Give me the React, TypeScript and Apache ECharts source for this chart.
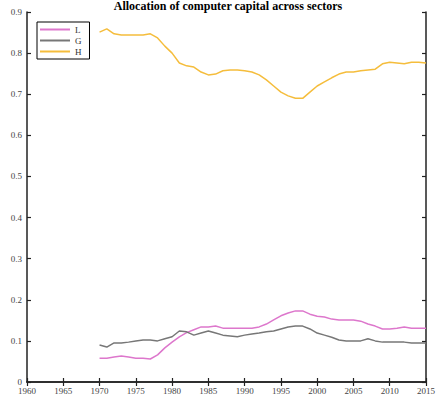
import React, { useEffect, useRef } from "react";
import * as echarts from "echarts";

const years = [1970,1971,1972,1973,1974,1975,1976,1977,1978,1979,1980,1981,1982,1983,1984,1985,1986,1987,1988,1989,1990,1991,1992,1993,1994,1995,1996,1997,1998,1999,2000,2001,2002,2003,2004,2005,2006,2007,2008,2009,2010,2011,2012,2013,2014,2015];
const seriesL = [0.058,0.058,0.061,0.063,0.061,0.058,0.058,0.056,0.066,0.083,0.097,0.11,0.12,0.127,0.134,0.134,0.136,0.131,0.131,0.131,0.131,0.131,0.134,0.141,0.151,0.161,0.168,0.173,0.173,0.165,0.16,0.158,0.153,0.151,0.151,0.151,0.148,0.141,0.136,0.129,0.129,0.131,0.134,0.131,0.131,0.131];
const seriesG = [0.09,0.085,0.095,0.095,0.097,0.1,0.102,0.102,0.1,0.105,0.11,0.124,0.122,0.114,0.119,0.124,0.119,0.114,0.112,0.11,0.114,0.117,0.119,0.122,0.124,0.129,0.134,0.136,0.136,0.129,0.119,0.114,0.109,0.102,0.1,0.1,0.1,0.105,0.1,0.097,0.097,0.097,0.097,0.095,0.095,0.095];
const seriesH = [0.851,0.859,0.847,0.844,0.844,0.844,0.844,0.847,0.837,0.817,0.8,0.776,0.769,0.766,0.754,0.747,0.749,0.757,0.759,0.759,0.757,0.754,0.747,0.735,0.72,0.705,0.696,0.69,0.69,0.705,0.72,0.73,0.74,0.749,0.754,0.754,0.757,0.759,0.761,0.774,0.778,0.776,0.774,0.778,0.778,0.776];
const xTicks = { min: 1960, max: 2015, interval: 5 };
const yTicks = { min: 0, max: 0.9, interval: 0.1 };
const titleText = "Allocation of computer capital across sectors";

const FONT = "Liberation Serif";

export default function App() {
  const ref = useRef<HTMLDivElement>(null);
  useEffect(() => {
    const chart = echarts.init(ref.current!, undefined, { renderer: "svg" });
    const pair = (vals: number[]) => years.map((y, i) => [y, vals[i]]);
    const axisLine = { show: true, lineStyle: { color: "#222", width: 1.5 } };
    const axisTick = { show: true, inside: true, length: 4, lineStyle: { color: "#222", width: 1.2 } };
    chart.setOption({
      animation: false,
      backgroundColor: "#fff",
      title: {
        text: titleText,
        left: 228,
        textAlign: "center",
        top: 0,
        padding: 0,
        textStyle: { fontFamily: FONT, fontSize: 12, fontWeight: "bold", color: "#000", lineHeight: 11 },
      },
      legend: {
        orient: "vertical",
        left: 37,
        top: 22,
        icon: "rect",
        itemWidth: 30,
        itemHeight: 2,
        itemGap: 2,
        padding: [3, 8, 3, 3],
        borderColor: "#000",
        borderWidth: 1,
        textStyle: { fontFamily: FONT, fontSize: 9, color: "#333" },
        data: ["L", "G", "H"],
      },
      grid: { left: 27, right: 10, top: 12, bottom: 15 },
      xAxis: [
        {
          type: "value", ...xTicks,
          axisLine, axisTick, splitLine: { show: false },
          axisLabel: { fontFamily: FONT, fontSize: 9, color: "#444", margin: 4, formatter: (v: number) => String(v) },
        },
        {
          type: "value", position: "top", ...xTicks,
          axisLine, axisTick, splitLine: { show: false }, axisLabel: { show: false },
        },
      ],
      yAxis: [
        {
          type: "value", ...yTicks,
          axisLine, axisTick, splitLine: { show: false },
          axisLabel: { fontFamily: FONT, fontSize: 9, color: "#444", margin: 5, formatter: (v: number) => (v === 0 ? "0" : String(Math.round(v * 10) / 10)) },
        },
        {
          type: "value", position: "right", ...yTicks,
          axisLine, axisTick, splitLine: { show: false }, axisLabel: { show: false },
        },
      ],
      series: [
        { name: "L", type: "line", data: pair(seriesL), showSymbol: false, lineStyle: { color: "#dd77cc", width: 1.5 }, itemStyle: { color: "#dd77cc" } },
        { name: "G", type: "line", data: pair(seriesG), showSymbol: false, lineStyle: { color: "#777777", width: 1.5 }, itemStyle: { color: "#777777" } },
        { name: "H", type: "line", data: pair(seriesH), showSymbol: false, lineStyle: { color: "#f5bd3c", width: 1.5 }, itemStyle: { color: "#f5bd3c" } },
      ],
    });
    return () => chart.dispose();
  }, []);
  return <div ref={ref} style={{ position: "fixed", left: 0, top: 0, width: 438, height: 397 }} />;
}
